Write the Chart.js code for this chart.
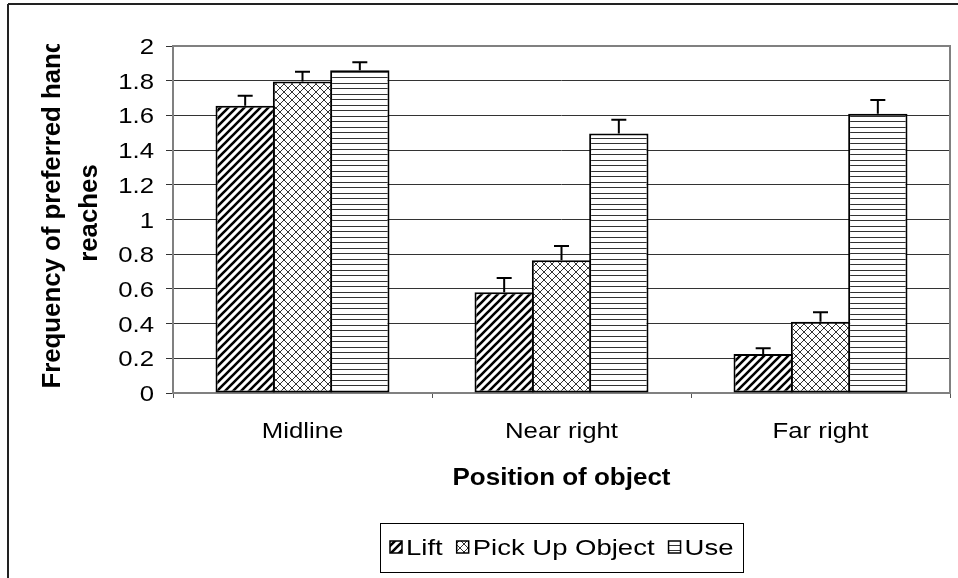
<!DOCTYPE html>
<html>
<head>
<meta charset="utf-8">
<title>Frequency of preferred hand reaches</title>
<script src="https://cdn.jsdelivr.net/npm/chart.js@4.4.1/dist/chart.umd.min.js"></script>
<style>
  html, body { margin: 0; padding: 0; background: #fff; }
  #wrap { width: 958px; height: 578px; position: relative; }
</style>
</head>
<body>
<div id="wrap"><canvas id="reach-chart"></canvas></div>
<script>
const categories = ["Midline", "Near right", "Far right"];
const seriesNames = ["Lift", "Pick Up Object", "Use"];

const liftValues = [1.655, 0.58, 0.225];
const pickUpValues = [1.795, 0.765, 0.41];
const useValues = [1.86, 1.495, 1.61];

// upper error bars only
const liftErrors = [0.058, 0.083, 0.033];
const pickUpErrors = [0.056, 0.082, 0.056];
const useErrors = [0.047, 0.08, 0.079];

const yTickLabels = ["0", "0.2", "0.4", "0.6", "0.8", "1", "1.2", "1.4", "1.6", "1.8", "2"];
const yTitle = ["Frequency of preferred hand", "reaches"];
const xTitle = "Position of object";

const FONT = "'Liberation Sans', Arial, sans-serif";
const STRETCH = 1.17; // the old chart draws its text a bit wide

// fill patterns like the old Excel hatches
function makePattern(kind) {
  const c = document.createElement("canvas");
  const g = c.getContext("2d");
  if (kind === "diagonal") {
    c.width = 8; c.height = 8;
    g.fillStyle = "#fff"; g.fillRect(0, 0, 8, 8);
    g.strokeStyle = "#000"; g.lineWidth = 2.6;
    g.beginPath();
    for (let k = -8; k <= 8; k += 8) { g.moveTo(k - 2, 10); g.lineTo(k + 10, -2); }
    g.stroke();
  } else if (kind === "cross") {
    c.width = 8; c.height = 8;
    g.fillStyle = "#fff"; g.fillRect(0, 0, 8, 8);
    g.strokeStyle = "#333"; g.lineWidth = 1;
    g.beginPath();
    for (let k = -8; k <= 8; k += 8) {
      g.moveTo(k - 2, 10); g.lineTo(k + 10, -2);
      g.moveTo(k - 2, -2); g.lineTo(k + 10, 10);
    }
    g.stroke();
  } else {
    c.width = 4; c.height = 11;
    g.fillStyle = "#fff"; g.fillRect(0, 0, 4, 11);
    g.fillStyle = "#333";
    g.fillRect(0, 0, 4, 1);
    g.fillRect(0, 6, 4, 1);
  }
  return g.createPattern(c, "repeat");
}

function wideText(ctx, text, x, y, align, stretch) {
  ctx.save();
  ctx.translate(x, y);
  ctx.scale(stretch, 1);
  ctx.textAlign = align;
  ctx.fillText(text, 0, 0);
  ctx.restore();
}

const plotFrame = {
  id: "plotFrame",
  beforeDatasetsDraw(chart) {
    const {ctx, chartArea: {left, top, width, height}} = chart;
    ctx.save();
    ctx.strokeStyle = "#808080";
    ctx.lineWidth = 2;
    ctx.strokeRect(left, top, width, height);
    ctx.restore();
  }
};

const errorBars = {
  id: "errorBars",
  afterDatasetsDraw(chart) {
    const ctx = chart.ctx;
    const y = chart.scales.y;
    ctx.save();
    ctx.strokeStyle = "#000";
    ctx.lineWidth = 2;
    chart.data.datasets.forEach((ds, i) => {
      chart.getDatasetMeta(i).data.forEach((bar, j) => {
        const tip = y.getPixelForValue(ds.data[j] + ds.errors[j]);
        ctx.beginPath();
        ctx.moveTo(bar.x, bar.y);
        ctx.lineTo(bar.x, tip);
        ctx.moveTo(bar.x - 7.5, tip);
        ctx.lineTo(bar.x + 7.5, tip);
        ctx.stroke();
      });
    });
    ctx.restore();
  }
};

const textAndLegend = {
  id: "textAndLegend",
  afterDraw(chart) {
    const ctx = chart.ctx;
    const xs = chart.scales.x, ys = chart.scales.y;
    const midX = (chart.chartArea.left + chart.chartArea.right) / 2;
    ctx.save();
    ctx.fillStyle = "#000";
    ctx.textBaseline = "alphabetic";

    // outer frame (only top and left edges are in the picture)
    ctx.strokeStyle = "#222";
    ctx.lineWidth = 2;
    ctx.beginPath();
    ctx.moveTo(8, 4); ctx.lineTo(958, 4);
    ctx.moveTo(8, 4); ctx.lineTo(8, 578);
    ctx.stroke();

    // y tick labels
    ctx.font = "22px " + FONT;
    yTickLabels.forEach(lbl => {
      wideText(ctx, lbl, 154, ys.getPixelForValue(Number(lbl)) + 8, "right", STRETCH);
    });

    // category labels
    categories.forEach((c, i) => {
      wideText(ctx, c, xs.getPixelForValue(i), 438, "center", STRETCH);
    });

    // x title
    ctx.font = "bold 23px " + FONT;
    wideText(ctx, xTitle, midX, 485, "center", 1.13);

    // y title, cut off at the top like the original
    ctx.save();
    ctx.beginPath();
    ctx.rect(0, 44, 170, 540);
    ctx.clip();
    ctx.font = "bold 25.8px " + FONT;
    ctx.translate(60, 213);
    ctx.rotate(-Math.PI / 2);
    ctx.textAlign = "center";
    ctx.fillText(yTitle[0], 0, 0);
    ctx.fillText(yTitle[1], 0, 37);
    ctx.restore();

    // legend
    ctx.font = "22px " + FONT;
    const legStretch = 1.25;
    const sw = 12, gapIn = 4, gapOut = 14, pad = 10;
    const widths = chart.data.datasets.map(ds => ctx.measureText(ds.label).width * legStretch);
    let total = pad * 2;
    widths.forEach((w, i) => { total += sw + gapIn + w + (i ? gapOut : 0); });
    const boxL = Math.round(midX - total / 2), boxT = 523, boxH = 49;
    ctx.strokeStyle = "#000";
    ctx.lineWidth = 1;
    ctx.strokeRect(boxL + 0.5, boxT + 0.5, Math.round(total), boxH);
    let x = boxL + pad;
    chart.data.datasets.forEach((ds, i) => {
      ctx.fillStyle = ds.backgroundColor;
      ctx.fillRect(x, 541, sw, sw);
      ctx.strokeStyle = "#000";
      ctx.lineWidth = 1.5;
      ctx.strokeRect(x, 541, sw, sw);
      ctx.fillStyle = "#000";
      wideText(ctx, ds.label, x + sw + gapIn, 555, "left", legStretch);
      x += sw + gapIn + widths[i] + gapOut;
    });
    ctx.restore();
  }
};

const barStyle = {
  borderColor: "#000",
  borderWidth: 2,
  borderSkipped: false,
  categoryPercentage: 0.664,
  barPercentage: 1.035
};

new Chart("reach-chart", {
  type: "bar",
  data: {
    labels: categories,
    datasets: [
      Object.assign({label: seriesNames[0], data: liftValues, errors: liftErrors, backgroundColor: makePattern("diagonal")}, barStyle),
      Object.assign({label: seriesNames[1], data: pickUpValues, errors: pickUpErrors, backgroundColor: makePattern("cross")}, barStyle),
      Object.assign({label: seriesNames[2], data: useValues, errors: useErrors, backgroundColor: makePattern("horizontal")}, barStyle)
    ]
  },
  options: {
    responsive: true,
    maintainAspectRatio: false,
    animation: false,
    devicePixelRatio: 1,
    layout: { padding: { left: 166, top: 46, right: 8, bottom: 180 } },
    plugins: {
      legend: { display: false },
      tooltip: { enabled: false },
      title: { display: false }
    },
    scales: {
      x: {
        grid: { offset: true, drawOnChartArea: false, drawTicks: true, tickLength: 5, color: "#555" },
        border: { display: false },
        ticks: { display: false }
      },
      y: {
        min: 0,
        max: 2,
        ticks: { display: false, stepSize: 0.2 },
        grid: { color: "#333", tickLength: 7, drawTicks: true },
        border: { display: false }
      }
    }
  },
  plugins: [plotFrame, errorBars, textAndLegend]
});
</script>
</body>
</html>
